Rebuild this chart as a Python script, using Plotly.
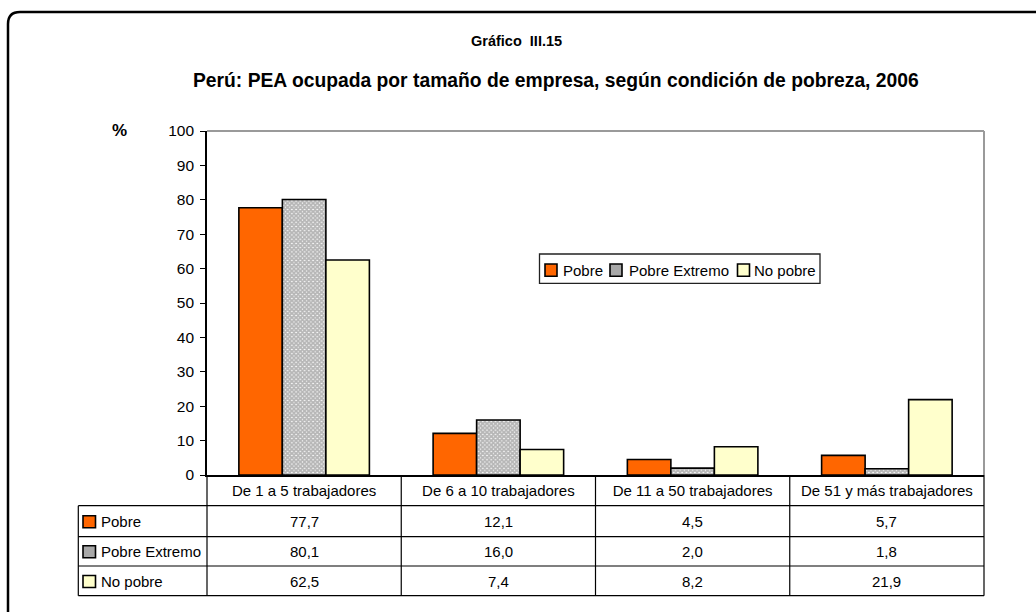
import plotly.graph_objects as go

categories = ["De 1 a 5 trabajadores", "De 6 a 10 trabajadores",
              "De 11 a 50 trabajadores", "De 51 y más trabajadores"]
series_names = ["Pobre", "Pobre Extremo", "No pobre"]
pobre = [77.7, 12.1, 4.5, 5.7]
pobre_extremo = [80.1, 16.0, 2.0, 1.8]
no_pobre = [62.5, 7.4, 8.2, 21.9]
y_ticks = list(range(0, 101, 10))

title_1 = "Gráfico  III.15"
title_2 = "Perú: PEA ocupada por tamaño de empresa, según condición de pobreza, 2006"

W, H = 1036, 612
L, R, T, B = 207, 984, 131, 475
FONT = "Liberation Sans, Arial, sans-serif"
FS = 15


def px(x):
    return (x - L) / (R - L)


def py(y):
    return (B - y) / (B - T)


orange = "#FF6600"
yellow = "#FFFFCC"
checker_fg = "#6e6e6e"

fig = go.Figure()
fig.add_trace(go.Bar(name=series_names[0], x=categories, y=pobre,
                     marker=dict(color=orange, line=dict(color="black", width=1.6))))
fig.add_trace(go.Bar(name=series_names[1], x=categories, y=pobre_extremo,
                     marker=dict(color="white", line=dict(color="black", width=1.6),
                                 pattern=dict(shape="x", size=3, solidity=0.85,
                                              fgcolor=checker_fg, bgcolor="white"))))
fig.add_trace(go.Bar(name=series_names[2], x=categories, y=no_pobre,
                     marker=dict(color=yellow, line=dict(color="black", width=1.6))))

shapes = []
# outer rounded frame
r = 12
path = (f"M {px(8)},{py(640)} L {px(8)},{py(12 + r)} "
        f"Q {px(8)},{py(12)} {px(8 + r)},{py(12)} L {px(1060)},{py(12)}")
shapes.append(dict(type="path", xref="paper", yref="paper", path=path,
                   line=dict(color="black", width=2.5)))
# gray top and right border of plot area
shapes.append(dict(type="line", xref="paper", yref="paper", x0=0, x1=1, y0=1, y1=1,
                   line=dict(color="#9a9a9a", width=2)))
shapes.append(dict(type="line", xref="paper", yref="paper", x0=1, x1=1, y0=0, y1=1,
                   line=dict(color="#9a9a9a", width=2)))
# table lines
row_lines = [505.7, 536.7, 566, 595.7]
for yy in row_lines:
    shapes.append(dict(type="line", xref="paper", yref="paper", x0=px(78.3), x1=1,
                       y0=py(yy), y1=py(yy), line=dict(color="black", width=1.2)))
shapes.append(dict(type="line", xref="paper", yref="paper", x0=px(78.3), x1=px(78.3),
                   y0=py(505.7), y1=py(595.7), line=dict(color="black", width=1.2)))
n = len(categories)
for k in range(n + 1):
    shapes.append(dict(type="line", xref="paper", yref="paper", x0=k / n, x1=k / n,
                       y0=0, y1=py(595.7), line=dict(color="black", width=1.2)))

annotations = []
row_centers = [521.2, 551.3, 581]
row_values = [pobre, pobre_extremo, no_pobre]
sq_fill = [orange, "#a8a8a8", yellow]
for i, (name, vals) in enumerate(zip(series_names, row_values)):
    yc = row_centers[i]
    shapes.append(dict(type="rect", xref="paper", yref="paper",
                       x0=px(83), x1=px(95.5), y0=py(yc - 5.5), y1=py(yc + 6.5),
                       fillcolor=sq_fill[i], line=dict(color="black", width=1.6)))
    annotations.append(dict(xref="paper", yref="paper", x=px(99), y=py(yc),
                            xanchor="left", yanchor="middle", text=name,
                            showarrow=False, font=dict(family=FONT, size=FS, color="black")))
    for c, v in zip(categories, vals):
        annotations.append(dict(xref="x", yref="paper", x=c, y=py(yc),
                                xanchor="center", yanchor="middle",
                                text=f"{v:.1f}".replace(".", ","), showarrow=False,
                                font=dict(family=FONT, size=FS, color="black")))

# legend box (drawn by hand to match the compact original layout)
shapes.append(dict(type="rect", xref="paper", yref="paper",
                   x0=px(539.5), x1=px(820), y0=py(283.3), y1=py(254),
                   fillcolor="white", line=dict(color="#222222", width=1.3), layer="above"))
leg_sq = [545, 610, 737.5]
leg_tx = [561, 626.5, 752]
leg_y = 270
for i, name in enumerate(series_names):
    shapes.append(dict(type="rect", xref="paper", yref="paper",
                       x0=px(leg_sq[i]), x1=px(leg_sq[i] + 12), y0=py(leg_y + 6.3), y1=py(leg_y - 6),
                       fillcolor=sq_fill[i], line=dict(color="black", width=1.6), layer="above"))
    annotations.append(dict(xref="paper", yref="paper", x=px(leg_tx[i]), y=py(leg_y),
                            xanchor="left", yanchor="middle", text=name, showarrow=False,
                            font=dict(family=FONT, size=FS, color="black")))

annotations.append(dict(xref="paper", yref="paper", x=px(516), y=py(41), text=f"<b>{title_1}</b>",
                        showarrow=False, xanchor="center", yanchor="middle",
                        font=dict(family=FONT, size=14.5, color="black")))
annotations.append(dict(xref="paper", yref="paper", x=px(556), y=py(81), text=f"<b>{title_2}</b>",
                        showarrow=False, xanchor="center", yanchor="middle",
                        font=dict(family=FONT, size=19.3, color="black")))
annotations.append(dict(xref="paper", yref="paper", x=px(119), y=py(130.5), text="<b>%</b>",
                        showarrow=False, xanchor="center", yanchor="middle",
                        font=dict(family=FONT, size=17, color="black")))

fig.update_layout(
    width=W, height=H,
    margin=dict(l=L, r=W - R, t=T, b=H - B, pad=0),
    paper_bgcolor="white", plot_bgcolor="white",
    barmode="group", bargap=0.328, bargroupgap=0,
    font=dict(family=FONT, size=FS, color="black"),
    showlegend=False,
    xaxis=dict(type="category", range=[-0.5, n - 0.5], showline=True, linecolor="black",
               linewidth=2, ticks="", showgrid=False, zeroline=False,
               tickfont=dict(family=FONT, size=FS, color="black"), ticklabelstandoff=1),
    yaxis=dict(range=[0, 100], tickvals=y_ticks, showline=True, linecolor="black", linewidth=1.6,
               ticks="outside", ticklen=5, tickcolor="black", tickwidth=1, showgrid=False,
               zeroline=False, tickfont=dict(family=FONT, size=15.5, color="black"),
               ticklabelstandoff=3),
    shapes=shapes, annotations=annotations,
)

fig.write_html("out.html", config={"displayModeBar": False},
               post_script="document.body.style.margin='0';")
